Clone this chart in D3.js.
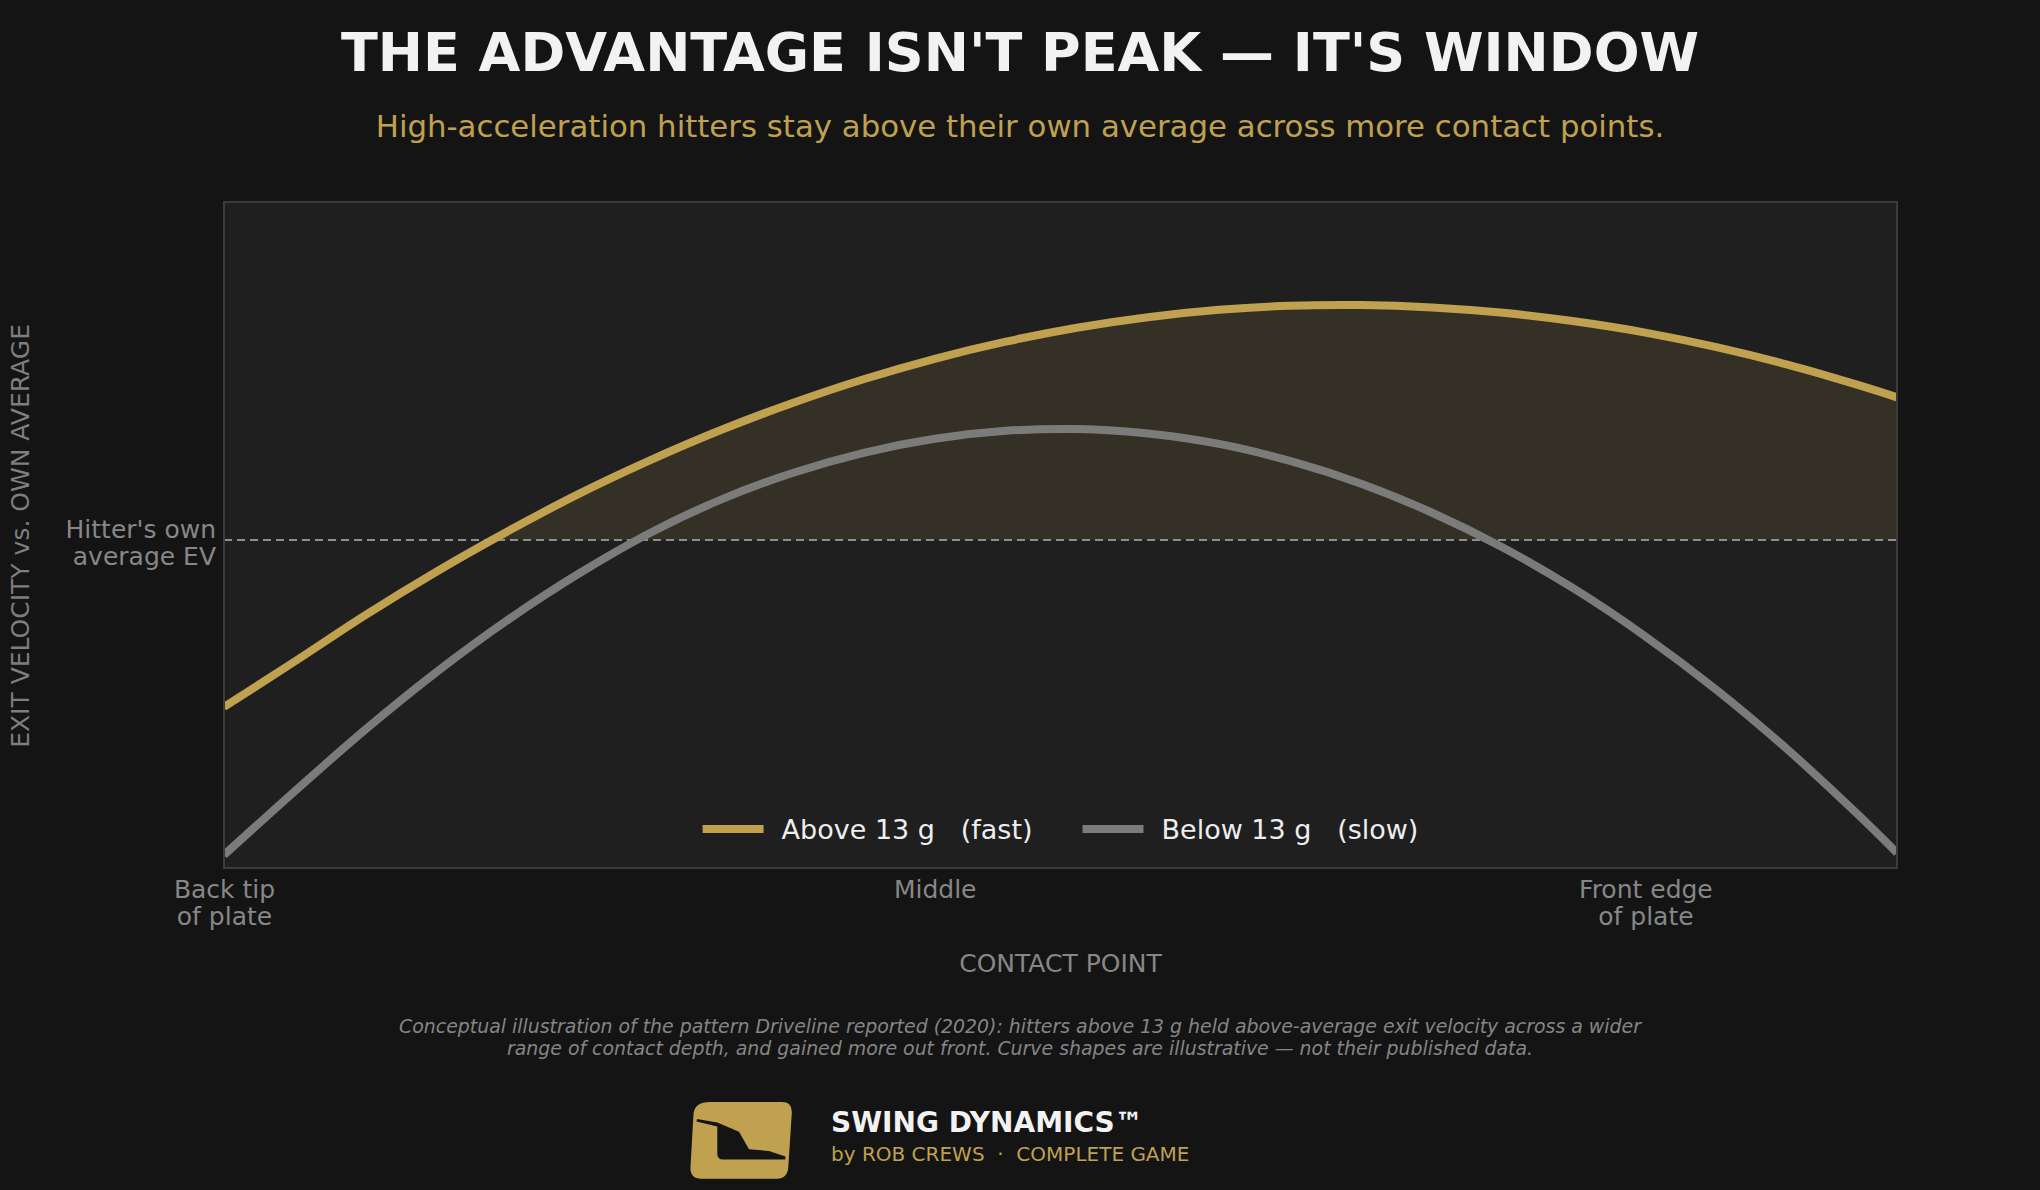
<!DOCTYPE html>
<html>
<head>
<meta charset="utf-8">
<script src="https://cdn.jsdelivr.net/npm/d3@7"></script>
<style>
  html, body { margin: 0; padding: 0; background: #141414; }
  svg { display: block; font-family: "DejaVu Sans", sans-serif; }
</style>
</head>
<body>
<svg id="chart" width="2040" height="1190"></svg>
<script>
// ---- data ----
const contactPos = [0, 0.05, 0.1, 0.15, 0.2, 0.25, 0.3, 0.35, 0.4, 0.45, 0.5, 0.55, 0.6,
                    0.65, 0.7, 0.75, 0.8, 0.85, 0.9, 0.95, 1.0, 1.05, 1.1, 1.15, 1.177];
const fastEV = [-1.680, -1.220, -0.751, -0.314, 0.090, 0.466, 0.803, 1.108, 1.378, 1.617, 1.823, 1.995, 2.135,
                2.241, 2.315, 2.356, 2.363, 2.339, 2.285, 2.200, 2.086, 1.940, 1.764, 1.557, 1.435];
const slowEV = [-3.169, -2.525, -1.901, -1.323, -0.801, -0.335, 0.073, 0.409, 0.674, 0.877, 1.018, 1.098, 1.116,
                1.071, 0.966, 0.795, 0.566, 0.274, -0.078, -0.493, -0.970, -1.507, -2.108, -2.769, -3.148];
const seriesNames = ["Above 13 g   (fast)", "Below 13 g   (slow)"];
const tickPositions = [0, 0.5, 1];
const tickLabels = [["Back tip", "of plate"], ["Middle"], ["Front edge", "of plate"]];
const baselineValue = 0;
const baselineLabel = ["Hitter's own", "average EV"];
const xDomain = [0, 1.177];
const yDomain = [-3.3, 3.4];

const titleText = "THE ADVANTAGE ISN'T PEAK \u2014 IT'S WINDOW";
const subtitleText = "High-acceleration hitters stay above their own average across more contact points.";
const xTitle = "CONTACT POINT";
const yTitle = "EXIT VELOCITY vs. OWN AVERAGE";
const noteLines = [
  "Conceptual illustration of the pattern Driveline reported (2020): hitters above 13 g held above-average exit velocity across a wider",
  "range of contact depth, and gained more out front. Curve shapes are illustrative \u2014 not their published data."
];
const brandName = "SWING DYNAMICS\u2122";
const brandSub = "by ROB CREWS  \u00B7  COMPLETE GAME";

// ---- styles ----
const GOLD = "#bfa150";
const GRAY = "#7b7b7b";
const MUTED = "#878787";

const svg = d3.select("#chart");
const W = 2040, H = 1190;
const m = {left: 224, top: 202, right: W - 1897, bottom: H - 868};
const iw = W - m.left - m.right, ih = H - m.top - m.bottom;

svg.append("rect").attr("width", W).attr("height", H).attr("fill", "#141414");

// titles
svg.append("text").attr("x", W / 2).attr("y", 71).attr("text-anchor", "middle")
  .attr("font-size", 54).attr("font-weight", "bold").attr("fill", "#f2f2f2").text(titleText);
svg.append("text").attr("x", W / 2).attr("y", 137).attr("text-anchor", "middle")
  .attr("font-size", 30.8).attr("fill", GOLD).text(subtitleText);

const x = d3.scaleLinear().domain(xDomain).range([0, iw]);
const y = d3.scaleLinear().domain(yDomain).range([ih, 0]);

const g = svg.append("g").attr("transform", `translate(${m.left},${m.top})`);

g.append("rect").attr("width", iw).attr("height", ih).attr("fill", "#1f1f1f");

const defs = svg.append("defs");
defs.append("clipPath").attr("id", "plotClip").append("rect").attr("width", iw).attr("height", ih);
defs.append("clipPath").attr("id", "aboveClip").append("rect")
  .attr("width", iw).attr("height", y(baselineValue));

const fastData = contactPos.map((p, i) => ({p, v: fastEV[i]}));
const slowData = contactPos.map((p, i) => ({p, v: slowEV[i]}));

const curve = d3.curveCatmullRom.alpha(0.5);
const line = d3.line().x(d => x(d.p)).y(d => y(d.v)).curve(curve);
const area = d3.area().x(d => x(d.p)).y0(y(baselineValue)).y1(d => y(d.v)).curve(curve);

const plot = g.append("g").attr("clip-path", "url(#plotClip)");

plot.append("path").datum(fastData).attr("d", area)
  .attr("fill", GOLD).attr("fill-opacity", 0.13).attr("clip-path", "url(#aboveClip)");

plot.append("line").attr("x1", 0).attr("x2", iw)
  .attr("y1", y(baselineValue)).attr("y2", y(baselineValue))
  .attr("stroke", "#8f8f8f").attr("stroke-width", 2).attr("stroke-dasharray", "8,5");

plot.append("path").datum(slowData).attr("d", line)
  .attr("fill", "none").attr("stroke", GRAY).attr("stroke-width", 8);
plot.append("path").datum(fastData).attr("d", line)
  .attr("fill", "none").attr("stroke", GOLD).attr("stroke-width", 8);

// border
g.append("rect").attr("width", iw).attr("height", ih)
  .attr("fill", "none").attr("stroke", "#3b3b3b").attr("stroke-width", 2);

// baseline label
const bl = g.append("text").attr("text-anchor", "end").attr("font-size", 25).attr("fill", MUTED);
baselineLabel.forEach((t, i) => {
  bl.append("tspan").attr("x", -8).attr("y", y(baselineValue) - 2 + i * 27).text(t);
});

// x axis
const xAxis = g.append("g").attr("transform", `translate(0,${ih})`)
  .call(d3.axisBottom(x).tickValues(tickPositions).tickSize(0).tickFormat(""));
xAxis.select(".domain").remove();
xAxis.selectAll(".tick text").each(function(d, i) {
  const t = d3.select(this).attr("y", 30).attr("dy", null)
    .attr("font-size", 25).attr("fill", MUTED).attr("font-family", "DejaVu Sans");
  tickLabels[i].forEach((s, j) => {
    t.append("tspan").attr("x", 0).attr("dy", j ? 27 : 0).text(s);
  });
});

g.append("text").attr("x", iw / 2).attr("y", ih + 104).attr("text-anchor", "middle")
  .attr("font-size", 25).attr("fill", MUTED).text(xTitle);

svg.append("text").attr("transform", `translate(29,${m.top + y(baselineValue) - 4}) rotate(-90)`)
  .attr("text-anchor", "middle").attr("font-size", 25).attr("fill", "#7e7e7e").text(yTitle);

// legend
const leg = g.append("g");
const legColors = [GOLD, GRAY];
let cx = 0;
seriesNames.forEach((name, i) => {
  const it = leg.append("g").attr("transform", `translate(${cx},0)`);
  it.append("line").attr("x1", 0).attr("x2", 61).attr("y1", 0).attr("y2", 0)
    .attr("stroke", legColors[i]).attr("stroke-width", 8);
  const t = it.append("text").attr("x", 79).attr("y", 10).attr("font-size", 27)
    .attr("fill", "#eeeeee").style("white-space", "pre").text(name);
  cx += 79 + t.node().getComputedTextLength() + 50;
});
const legW = cx - 50;
leg.attr("transform", `translate(${iw / 2 - legW / 2},${ih - 39})`);

// note
const note = svg.append("text").attr("text-anchor", "middle").attr("font-size", 18.9)
  .attr("font-style", "italic").attr("fill", "#858585");
noteLines.forEach((t, i) => {
  note.append("tspan").attr("x", W / 2).attr("y", 1033 + i * 22).text(t);
});

// brand logo
const logo = svg.append("g").attr("transform", "translate(684,1096)");
logo.append("path").attr("fill", GOLD).attr("fill-rule", "evenodd").attr("d",
  "M26,6 L98,6 Q108.5,6 107.8,17 L104.3,71 Q103.5,82.7 93,82.7 L17,82.7 Q6,82.7 6.5,71 L9.5,18 Q10.5,6 26,6 Z " +
  "M13,23 L33.3,26.5 L55,35.7 L65,53.3 L85,55 L101.5,60.5 L101.3,63.5 L39,63.5 Q33.3,63.5 33.3,57.5 L33.3,30.5 L12.5,25.5 Z");

svg.append("text").attr("x", 831).attr("y", 1132).attr("font-size", 28).attr("font-weight", "bold")
  .attr("fill", "#f2f2f2").text(brandName);
svg.append("text").attr("x", 831).attr("y", 1161).attr("font-size", 20)
  .attr("fill", GOLD).style("white-space", "pre").text(brandSub);
</script>
</body>
</html>
